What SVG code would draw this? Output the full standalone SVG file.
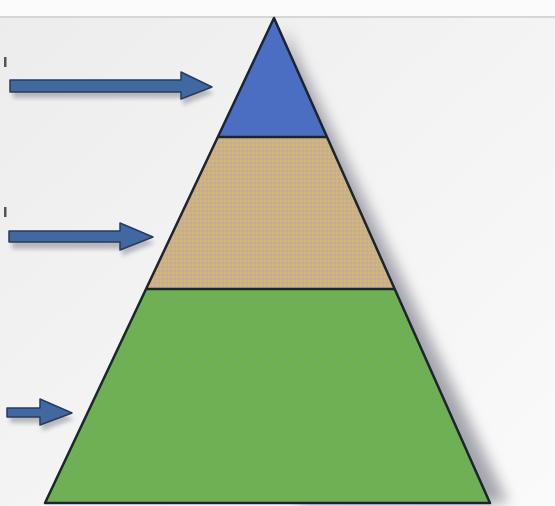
<svg xmlns="http://www.w3.org/2000/svg" width="555" height="506" viewBox="0 0 555 506">
<defs>
<linearGradient id="bg" x1="0" y1="0" x2="1" y2="1">
<stop offset="0" stop-color="#ececec"/>
<stop offset="0.4" stop-color="#f2f2f2"/>
<stop offset="1" stop-color="#fafafa"/>
</linearGradient>
<filter id="blur" x="-20%" y="-20%" width="140%" height="140%"><feGaussianBlur stdDeviation="7"/></filter>
<filter id="ablur" x="-20%" y="-50%" width="140%" height="200%"><feGaussianBlur stdDeviation="2"/></filter>
<pattern id="tanp" width="4" height="4" patternUnits="userSpaceOnUse">
<rect width="4" height="4" fill="#cbb285"/>
<rect width="2" height="2" fill="#d4b87a"/>
<rect x="2" y="2" width="2" height="2" fill="#c6aa98"/>
</pattern>
<pattern id="greenp" width="4" height="4" patternUnits="userSpaceOnUse" patternTransform="rotate(-30)">
<rect width="4" height="4" fill="#70b23e"/>
<rect y="2" width="4" height="1.2" fill="#6caa8a"/>
</pattern>
</defs>
<style>
.edge{stroke:#1c2430;stroke-width:2.5;fill:none;stroke-linejoin:round}
.arrow{fill:#4168a0;stroke:#263c5c;stroke-width:1.5;stroke-linejoin:round}
.ashadow{fill:#7a7f8a;opacity:0.5;filter:url(#ablur)}
.tick{fill:#555}
</style>
<rect width="555" height="506" fill="url(#bg)"/>
<rect width="555" height="16" fill="#fbfbfb"/>
<line x1="0" y1="17" x2="555" y2="17" stroke="#d6d6d6" stroke-width="2"/>
<rect class="tick" x="4" y="57" width="2.5" height="10"/>
<rect class="tick" x="4" y="207" width="2.5" height="10"/>
<polygon points="284,28 508,503 300,503" fill="#80808c" opacity="0.7" filter="url(#blur)"/>
<g id="layer-top">
<polygon points="274,18 218,137 327,137" fill="#4b6dc2"/>
</g>
<g id="layer-middle">
<polygon points="218,137 327,137 395,289 146,289" fill="url(#tanp)"/>
</g>
<g id="layer-bottom">
<polygon points="146,289 395,289 490,503 45,503" fill="url(#greenp)"/>
</g>
<g id="outline">
<polygon class="edge" points="274,18 490,503 45,503"/>
<line class="edge" x1="218" y1="137" x2="327" y2="137"/>
<line class="edge" x1="146" y1="289" x2="395" y2="289"/>
</g>
<g id="connectors">
<g id="arrow1">
<polygon class="ashadow" points="13,85 183,85 183,78 214,93 183,105 183,98 13,98"/>
<polygon class="arrow" points="10,80 181,80 181,72 212,87 181,99 181,92 10,92"/>
</g>
<g id="arrow2">
<polygon class="ashadow" points="12,236 122,236 122,229 155,243 122,256 122,249 12,249"/>
<polygon class="arrow" points="9,231 120,231 120,223 153,237 120,250 120,242 9,242"/>
</g>
<g id="arrow3">
<polygon class="ashadow" points="10,413 42,413 42,405 74,419 42,431 42,423 10,423"/>
<polygon class="arrow" points="7,408 40,408 40,399 72,413 40,425 40,417 7,417"/>
</g>
</g>
</svg>
